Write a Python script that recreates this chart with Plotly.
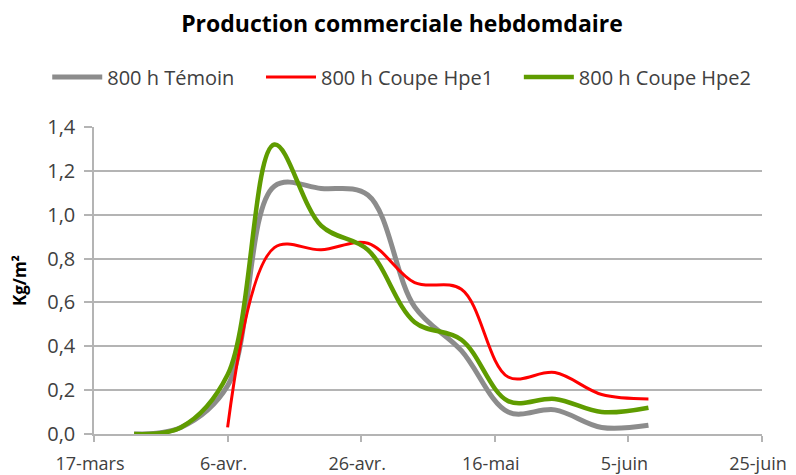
import plotly.graph_objects as go

dates_temoin = ["2014-03-23", "2014-03-30", "2014-04-06", "2014-04-13", "2014-04-20", "2014-04-27",
                "2014-05-04", "2014-05-11", "2014-05-18", "2014-05-25", "2014-06-01", "2014-06-08"]
temoin = [0.0, 0.03, 0.22, 1.13, 1.12, 1.09, 0.58, 0.38, 0.10, 0.11, 0.03, 0.04]

dates_hpe1 = ["2014-04-06", "2014-04-13", "2014-04-20", "2014-04-27",
              "2014-05-04", "2014-05-11", "2014-05-18", "2014-05-25", "2014-06-01", "2014-06-08"]
hpe1 = [0.03, 0.85, 0.84, 0.87, 0.69, 0.66, 0.26, 0.28, 0.18, 0.16]

dates_hpe2 = dates_temoin
hpe2 = [0.0, 0.03, 0.27, 1.32, 0.95, 0.84, 0.51, 0.43, 0.15, 0.16, 0.10, 0.12]

tick_dates = ["2014-03-17", "2014-04-06", "2014-04-26", "2014-05-16", "2014-06-05", "2014-06-25"]
tick_labels = ["17-mars", "6-avr.", "26-avr.", "16-mai", "5-juin", "25-juin"]

y_ticks = [0, 0.2, 0.4, 0.6, 0.8, 1.0, 1.2, 1.4]
y_tick_labels = ["0,0", "0,2", "0,4", "0,6", "0,8", "1,0", "1,2", "1,4"]

FONT = "Open Sans, Arial, sans-serif"
AXIS_GREY = "#b4b4b4"
LEG_FONT = dict(size=20, color="#404040")

fig = go.Figure()
fig.add_trace(go.Scatter(x=dates_temoin, y=temoin, mode="lines", name="800 h Témoin", legend="legend",
                         line=dict(color="#8c8c8c", width=5, shape="spline", smoothing=1.0)))
fig.add_trace(go.Scatter(x=dates_hpe1, y=hpe1, mode="lines", name="800 h Coupe Hpe1", legend="legend2",
                         line=dict(color="#ff0000", width=3, shape="spline", smoothing=1.0)))
fig.add_trace(go.Scatter(x=dates_hpe2, y=hpe2, mode="lines", name="800 h Coupe Hpe2", legend="legend3",
                         line=dict(color="#5f9c00", width=4.5, shape="spline", smoothing=1.0)))

# the page body has an 8px margin: the figure is 788x467 so that it ends at the window edge
fig.update_layout(
    width=788, height=467,
    margin=dict(l=86, r=34, t=119, b=41, autoexpand=False),
    paper_bgcolor="white", plot_bgcolor="white",
    font=dict(family=FONT, size=19, color="#404040"),
    title=dict(text="<b>Production commerciale hebdomdaire</b>", x=0.5, xanchor="center",
               y=1 - 16 / 467, yanchor="middle", font=dict(size=23, color="#000000")),
    legend=dict(orientation="h", x=-0.07, xanchor="left", y=1.163, yanchor="middle",
                font=LEG_FONT, itemwidth=50, bgcolor="rgba(0,0,0,0)"),
    legend2=dict(orientation="h", x=0.25, xanchor="left", y=1.163, yanchor="middle",
                 font=LEG_FONT, itemwidth=50, bgcolor="rgba(0,0,0,0)"),
    legend3=dict(orientation="h", x=0.636, xanchor="left", y=1.163, yanchor="middle",
                 font=LEG_FONT, itemwidth=50, bgcolor="rgba(0,0,0,0)"),
    showlegend=True,
)
fig.update_xaxes(
    type="date", range=["2014-03-17", "2014-06-25"],
    tickmode="array", tickvals=tick_dates, ticktext=tick_labels,
    showgrid=False, showline=True, linecolor=AXIS_GREY, linewidth=1.5,
    ticks="outside", ticklen=6, tickcolor=AXIS_GREY, tickwidth=1.5,
    ticklabelstandoff=7, ticklabelshift=-4,
    tickfont=dict(size=18), zeroline=False, automargin=False,
)
fig.update_yaxes(
    range=[0, 1.4], tickvals=y_ticks, ticktext=y_tick_labels,
    showgrid=True, gridcolor=AXIS_GREY, gridwidth=1.5,
    showline=True, linecolor=AXIS_GREY, linewidth=1.5,
    ticks="outside", ticklen=8, tickcolor=AXIS_GREY, tickwidth=1.5,
    ticklabelstandoff=5, automargin=False,
    tickfont=dict(size=20), zeroline=False,
    title=dict(text="<b>Kg/m²</b>", font=dict(size=17, color="#000000"), standoff=24),
)

fig.write_html("out.html")
